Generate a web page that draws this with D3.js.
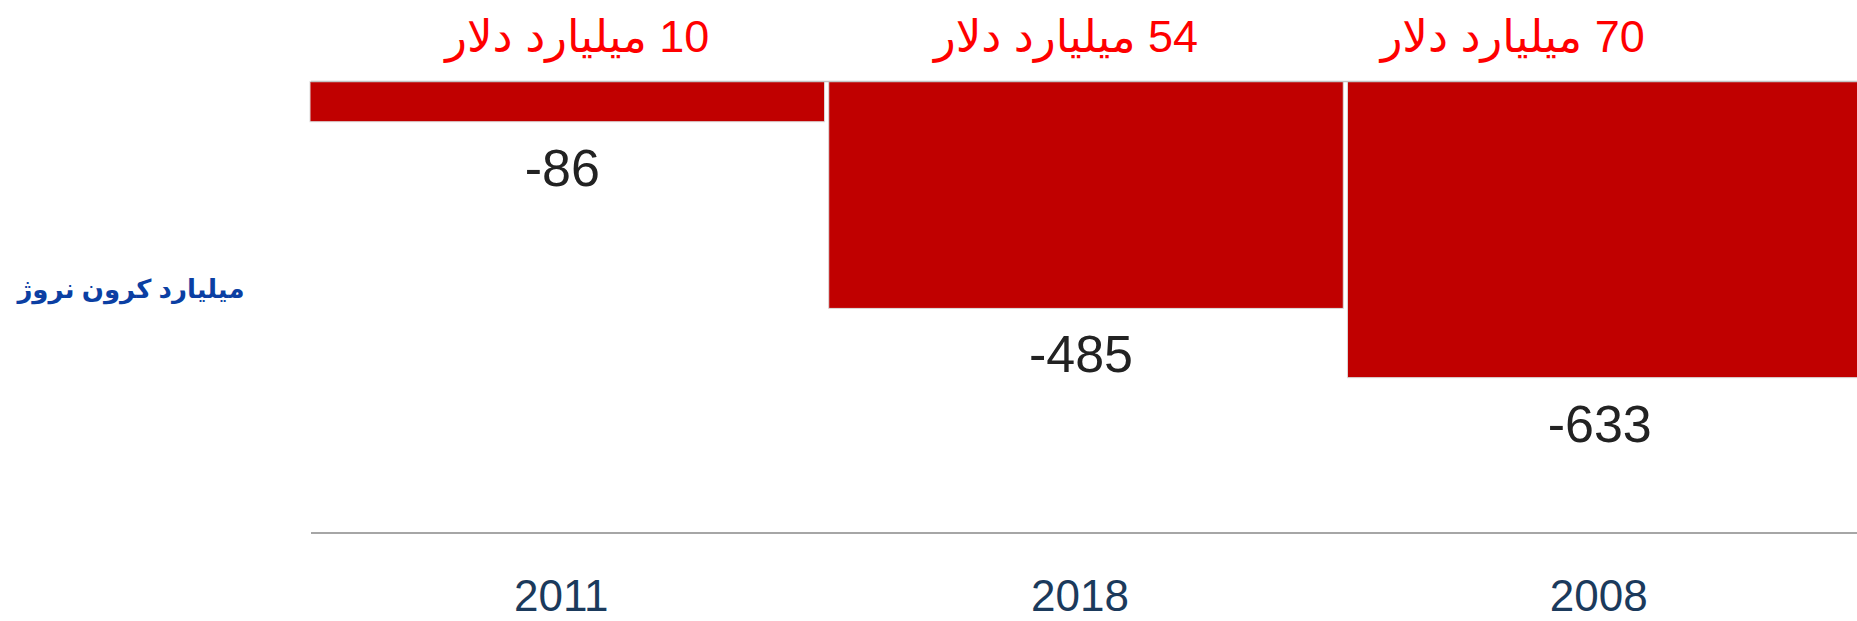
<!DOCTYPE html>
<html>
<head>
<meta charset="utf-8">
<script src="https://cdn.jsdelivr.net/npm/d3@7/dist/d3.min.js"></script>
<style>
  html, body { margin: 0; padding: 0; background: #fff; overflow: hidden; }
  svg { display: block; }
  text { font-family: "Liberation Sans", Arial, "DejaVu Sans", sans-serif; }
</style>
</head>
<body>
<svg id="chart" width="1857" height="621"></svg>
<script>
// ---- data ----
const categories = ["2011", "2018", "2008"];
const values = [-86, -485, -633];
const dollarLabels = ["10 میلیارد دلار", "54 میلیارد دلار", "70 میلیارد دلار"];
const yAxisTitle = "میلیارد کرون نروژ";
const yDomain = [-965, 0];

// ---- layout ----
const W = 1857, H = 621;
const topLabelDx = [10, -20, -92];
const svg = d3.select("#chart");

const x = d3.scaleBand()
  .domain(categories)
  .range([310, 1862])
  .paddingInner(0.008)
  .paddingOuter(0);

const y = d3.scaleLinear()
  .domain(yDomain)
  .range([533, 81.5]);

// bars
svg.append("g").selectAll("rect")
  .data(values)
  .join("rect")
  .attr("x", (d, i) => x(categories[i]))
  .attr("width", x.bandwidth())
  .attr("y", d => y(Math.max(0, d)))
  .attr("height", d => Math.abs(y(d) - y(0)))
  .attr("fill", "#c00000")
  .attr("stroke", "#dcdcdc")
  .attr("stroke-width", 1);

// zero line
svg.append("line")
  .attr("x1", 311).attr("x2", W)
  .attr("y1", y(0)).attr("y2", y(0))
  .attr("stroke", "#c4c4c4")
  .attr("stroke-width", 1.5);

// bottom axis line
svg.append("line")
  .attr("x1", 311).attr("x2", W)
  .attr("y1", y(yDomain[0])).attr("y2", y(yDomain[0]))
  .attr("stroke", "#a6a6a6")
  .attr("stroke-width", 2);

// value labels
svg.append("g").selectAll("text")
  .data(values)
  .join("text")
  .attr("x", (d, i) => x(categories[i]) + x.bandwidth() / 2 - 5)
  .attr("y", d => y(d) + 64)
  .attr("text-anchor", "middle")
  .attr("font-size", 52)
  .attr("fill", "#222222")
  .text(d => String(d));

// top dollar labels
svg.append("g").selectAll("text")
  .data(dollarLabels)
  .join("text")
  .attr("x", (d, i) => x(categories[i]) + x.bandwidth() / 2 + topLabelDx[i])
  .attr("y", 52)
  .attr("text-anchor", "middle")
  .attr("direction", "rtl")
  .attr("font-size", 45)
  .attr("fill", "#ff0000")
  .text(d => d);

// category axis labels
svg.append("g").selectAll("text")
  .data(categories)
  .join("text")
  .attr("x", d => x(d) + x.bandwidth() / 2 - 6)
  .attr("y", 611)
  .attr("text-anchor", "middle")
  .attr("font-size", 44)
  .attr("fill", "#1b3a5c")
  .text(d => d);

// y axis title
svg.append("text")
  .attr("x", 131)
  .attr("y", 298)
  .attr("text-anchor", "middle")
  .attr("direction", "rtl")
  .attr("font-size", 26)
  .attr("font-weight", "bold")
  .attr("fill", "#0b3fa3")
  .text(yAxisTitle);
</script>
</body>
</html>
